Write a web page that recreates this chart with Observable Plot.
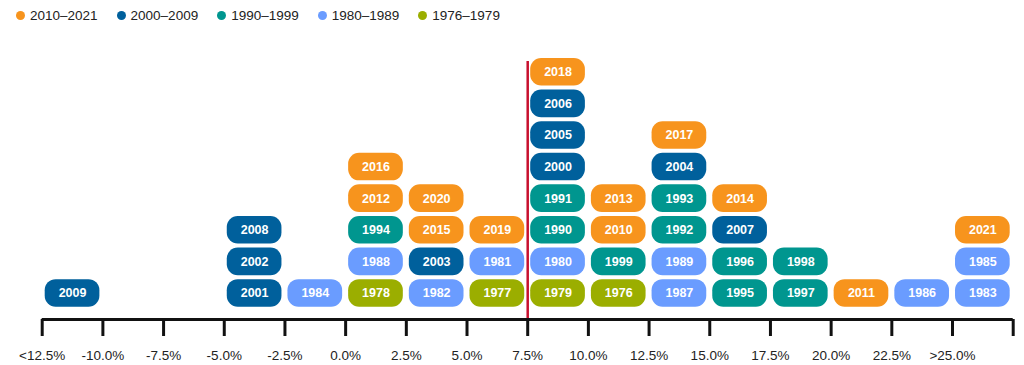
<!DOCTYPE html>
<html>
<head>
<meta charset="utf-8">
<script src="https://cdn.jsdelivr.net/npm/d3@7"></script>
<script src="https://cdn.jsdelivr.net/npm/@observablehq/plot@0.6"></script>
<style>
  html, body { margin: 0; padding: 0; background: #fff; }
  body { width: 1024px; height: 365px; overflow: hidden; font-family: "Liberation Sans", Arial, sans-serif; }
  #legend { height: 30px; display: flex; align-items: center; padding-left: 16px; box-sizing: border-box; font-size: 13.5px; color: #222; }
  .item { display: flex; align-items: center; margin-right: 19px; }
  .dot { width: 9px; height: 9px; border-radius: 50%; margin-right: 5px; }
</style>
</head>
<body>
<div id="legend"></div>
<div id="chart"></div>
<script>
// ---- data ----
const years = [
  2009,
  2001, 2002, 2008,
  1984,
  1978, 1988, 1994, 2012, 2016,
  1982, 2003, 2015, 2020,
  1977, 1981, 2019,
  1979, 1980, 1990, 1991, 2000, 2005, 2006, 2018,
  1976, 1999, 2010, 2013,
  1987, 1989, 1992, 1993, 2004, 2017,
  1995, 1996, 2007, 2014,
  1997, 1998,
  2011,
  1986,
  1983, 1985, 2021
];
// lower bound of the 2.5% return bin for each year
const binStart = [
  -12.5,
  -5, -5, -5,
  -2.5,
  0, 0, 0, 0, 0,
  2.5, 2.5, 2.5, 2.5,
  5, 5, 5,
  7.5, 7.5, 7.5, 7.5, 7.5, 7.5, 7.5, 7.5,
  10, 10, 10, 10,
  12.5, 12.5, 12.5, 12.5, 12.5, 12.5,
  15, 15, 15, 15,
  17.5, 17.5,
  20,
  22.5,
  25, 25, 25
];
const binWidth = 2.5;
const tickValues = [-12.5, -10, -7.5, -5, -2.5, 0, 2.5, 5, 7.5, 10, 12.5, 15, 17.5, 20, 22.5, 25, 27.5];
const tickLabels = ["<12.5%", "-10.0%", "-7.5%", "-5.0%", "-2.5%", "0.0%", "2.5%", "5.0%", "7.5%", "10.0%", "12.5%", "15.0%", "17.5%", "20.0%", "22.5%", ">25.0%", ""];
const referenceReturn = 7.5;
const groups = ["2010–2021", "2000–2009", "1990–1999", "1980–1989", "1976–1979"];
const groupColors = ["#F7941D", "#00609C", "#00968F", "#6A9CFF", "#9BAE00"];

function groupOf(y) {
  if (y >= 2010) return groups[0];
  if (y >= 2000) return groups[1];
  if (y >= 1990) return groups[2];
  if (y >= 1980) return groups[3];
  return groups[4];
}

// build table, rank within bin by year (oldest at bottom)
const table = years.map((y, i) => ({year: y, bin: binStart[i], group: groupOf(y)}));
const byBin = d3.group(table, d => d.bin);
for (const [, arr] of byBin) {
  arr.sort((a, b) => a.year - b.year).forEach((d, i) => d.row = i);
}

// legend
const legend = document.getElementById("legend");
groups.forEach((g, i) => {
  const it = document.createElement("div");
  it.className = "item";
  it.innerHTML = `<span class="dot" style="background:${groupColors[i]}"></span><span>${g}</span>`;
  legend.appendChild(it);
});

const chart = Plot.plot({
  width: 1024,
  height: 335,
  marginLeft: 41.7,
  marginRight: 11.3,
  marginTop: 26,
  marginBottom: 46,
  style: {fontFamily: "'Liberation Sans', Arial, sans-serif", background: "#fff"},
  x: {domain: [-12.5, 27.5]},
  y: {domain: [-0.325, 8], axis: null},
  color: {domain: groups, range: groupColors},
  marks: [
    Plot.rect(table, {
      x1: "bin", x2: d => d.bin + binWidth,
      y1: "row", y2: d => d.row + 1,
      fill: "group",
      insetLeft: 3, insetRight: 3, insetTop: 2, insetBottom: 2,
      rx: 11
    }),
    Plot.text(table, {
      x: d => d.bin + binWidth / 2,
      y: d => d.row + 0.5,
      text: d => String(d.year),
      fill: "white",
      fontWeight: "bold",
      fontSize: 12.5
    }),
    Plot.ruleX([referenceReturn], {stroke: "#C8102E", strokeWidth: 2.5, insetTop: 5}),
    Plot.ruleY([-0.325], {stroke: "#111", strokeWidth: 3}),
    Plot.axisX({
      ticks: tickValues,
      tickFormat: (d, i) => tickLabels[i],
      tickSize: 17,
      tickPadding: 14,
      strokeWidth: 3,
      stroke: "#111",
      fontSize: 13.5,
      color: "#222",
      label: null
    })
  ]
});
document.getElementById("chart").appendChild(chart);
</script>
</body>
</html>
